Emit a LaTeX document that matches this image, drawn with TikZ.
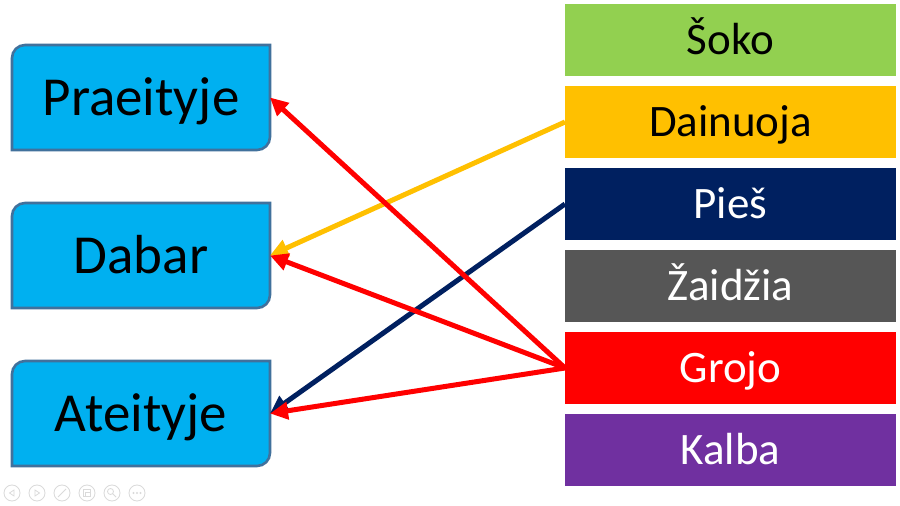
\documentclass[tikz,border=0pt]{standalone}
\usepackage{fontspec}
\setmainfont{Carlito}
\usetikzlibrary{arrows.meta}
\pgfdeclarelayer{background}
\pgfsetlayers{background,main}
\definecolor{lbfill}{HTML}{00B0F0}
\definecolor{lbdraw}{HTML}{41719C}
\definecolor{cgreen}{HTML}{92D050}
\definecolor{corange}{HTML}{FFC000}
\definecolor{cnavy}{HTML}{002060}
\definecolor{cgray}{HTML}{565656}
\definecolor{cred}{HTML}{FF0000}
\definecolor{cpurple}{HTML}{7030A0}
\definecolor{iconcol}{HTML}{DADADA}
\begin{document}
\begin{tikzpicture}[x=1pt,y=1pt,
  leftbox/.style={minimum width=258pt, minimum height=105pt, inner sep=0pt, outer sep=0pt, text height=37pt, text depth=0pt, font=\fontsize{55}{60}\selectfont},
  leftshape/.style={fill=lbfill, draw=lbdraw, line width=2.6pt},
  rightbox/.style={minimum width=331pt, minimum height=72pt, inner sep=0pt, outer sep=0pt, text height=30pt, text depth=0pt, font=\fontsize{45}{50}\selectfont},
  link/.style={line width=5pt, -{Triangle[length=18pt,width=17pt]}},
  icon/.style={draw=iconcol, line width=0.8pt}]
\useasboundingbox (0,0) rectangle (900,506);

% left boxes
\node[leftbox] (prae) at (141,408.5) {Praeityje};
\node[leftbox] (dab)  at (141,250.5) {Dabar};
\node[leftbox] (ate)  at (141,92.5)  {Ateityje};
\begin{pgfonlayer}{background}
\fill[white] (0,0) rectangle (900,506);
\foreach \n in {prae,dab,ate}{
  \draw[leftshape] ([yshift=-13pt]\n.north west) arc[start angle=180,end angle=90,radius=13pt]
    -- (\n.north east) -- ([yshift=13pt]\n.south east) arc[start angle=0,end angle=-90,radius=13pt]
    -- (\n.south west) -- cycle;
}
\end{pgfonlayer}

% right boxes
\node[rightbox, fill=cgreen]  (soko)  at (730.5,466) {Šoko};
\node[rightbox, fill=corange] (dain)  at (730.5,384) {Dainuoja};
\node[rightbox, fill=cnavy, text=white]   (pies)  at (730.5,302) {Pieš};
\node[rightbox, fill=cgray, text=white]   (zaid)  at (730.5,220) {Žaidžia};
\node[rightbox, fill=cred, text=white]    (grojo) at (730.5,138) {Grojo};
\node[rightbox, fill=cpurple, text=white] (kalba) at (730.5,56)  {Kalba};

% connectors
\draw[link, cnavy]   (pies.west) -- (ate.east);
\draw[link, corange] (dain.west) -- (dab.east);
\draw[link, cred]    (grojo.west) -- (prae.east);
\draw[link, cred]    (grojo.west) -- (dab.east);
\draw[link, cred]    (grojo.west) -- (ate.east);

% faint presentation controls
\foreach \x in {12,37,62,87,112,137}{
  \draw[icon] (\x,13) circle[radius=8pt];
}
\draw[icon] (14,16) -- (9.5,13) -- (14,10) -- cycle;
\draw[icon] (35,16) -- (39.5,13) -- (35,10) -- cycle;
\draw[icon] (58,9) -- (66,17);
\draw[icon] (83.5,9.5) rectangle (90.5,16.5);
\draw[icon] (85.5,9.5) rectangle (90.5,14);
\draw[icon] (110.5,14.5) circle[radius=3pt];
\draw[icon] (112.6,12.4) -- (116,9);
\fill[iconcol] (133.5,13) circle[radius=1.1pt] (137,13) circle[radius=1.1pt] (140.5,13) circle[radius=1.1pt];
\end{tikzpicture}
\end{document}
